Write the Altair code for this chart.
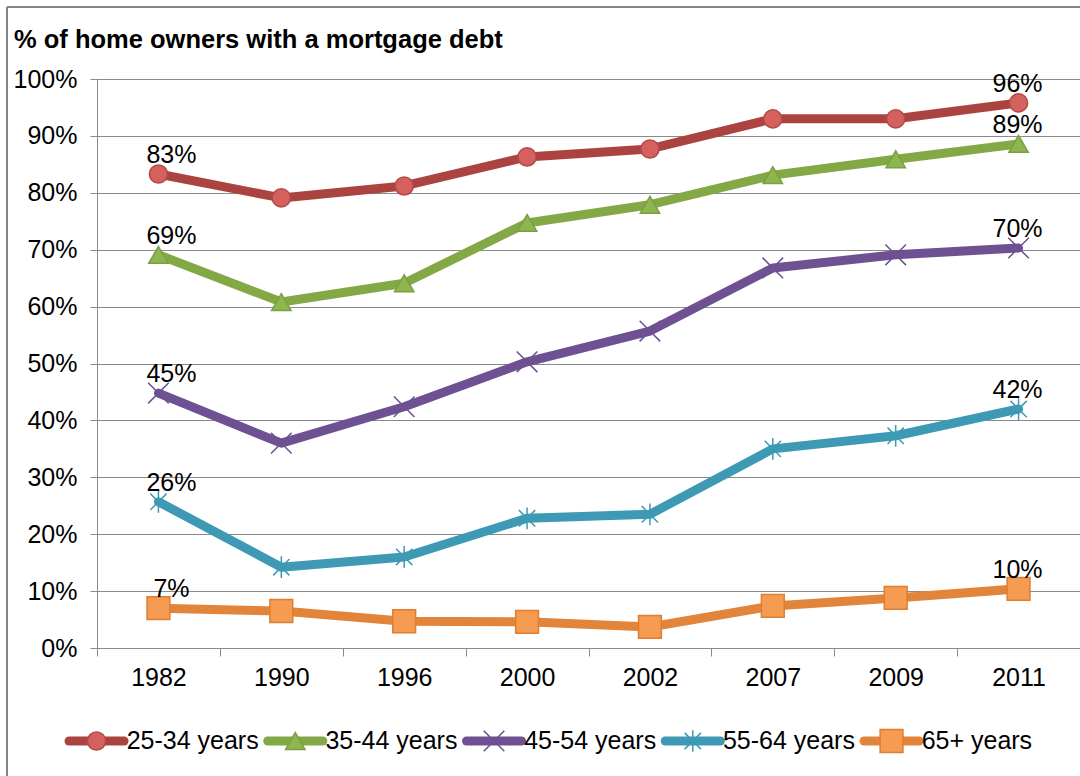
import altair as alt
import pandas as pd

years = ["1982", "1990", "1996", "2000", "2002", "2007", "2009", "2011"]
series = ["25-34 years", "35-44 years", "45-54 years", "55-64 years", "65+ years"]
v2534 = [83.3, 79.1, 81.2, 86.3, 87.7, 93.0, 93.0, 95.8]
v3544 = [69.1, 60.8, 64.1, 74.7, 77.9, 83.1, 85.9, 88.6]
v4554 = [44.8, 36.0, 42.4, 50.3, 55.7, 66.8, 69.1, 70.3]
v5564 = [25.7, 14.2, 16.0, 22.8, 23.5, 35.0, 37.3, 42.0]
v65 = [7.0, 6.5, 4.7, 4.6, 3.7, 7.4, 8.8, 10.4]
y_ticks = [0, 10, 20, 30, 40, 50, 60, 70, 80, 90, 100]
title_text = "% of home owners with a mortgage debt"

line_colors = ["#AB4441", "#83A846", "#6D5192", "#3E9AB4", "#E2843A"]
fill_colors = ["#D4615E", "#8DB550", "#6D5192", "#3E9AB4", "#F59B52"]
stroke_colors = ["#B44A47", "#7C9F42", "#6D5192", "#3E9AB4", "#DE7E31"]
shapes = ["circle", "triangle-up", "M-1,-1L1,1M-1,1L1,-1",
          "M-0.75,-0.75L0.75,0.75M-0.75,0.75L0.75,-0.75M0,-1L0,1", "square"]
sizes = [330, 520, 420, 460, 440]
leg_sizes = [290, 420, 360, 400, 380]
stroke_widths = [1.5, 1.5, 2.5, 2.5, 1.5]
fill_op = [1, 1, 0, 0, 1]

FONT = "Liberation Sans"
FS = 25

rows = []
for name, vals in zip(series, [v2534, v3544, v4554, v5564, v65]):
    for yr, v in zip(years, vals):
        rows.append({"series": name, "year": yr, "value": v})
df = pd.DataFrame(rows)

leg = pd.DataFrame({
    "series": series,
    "start": [i for i in range(len(series))],
})
leg["end"] = leg["start"] + 0.277
leg["mid"] = leg["start"] + 0.1385
leg["labx"] = leg["start"] + 0.29

W, H = 983, 569

col_line = alt.Color("series:N", scale=alt.Scale(domain=series, range=line_colors), legend=None)
shape_enc = alt.Shape("series:N", scale=alt.Scale(domain=series, range=shapes), legend=None)
fill_enc = alt.Fill("series:N", scale=alt.Scale(domain=series, range=fill_colors), legend=None)
stroke_enc = alt.Stroke("series:N", scale=alt.Scale(domain=series, range=stroke_colors), legend=None)
size_enc = alt.Size("series:N", scale=alt.Scale(domain=series, range=sizes), legend=None)
leg_size_enc = alt.Size("series:N", scale=alt.Scale(domain=series, range=leg_sizes), legend=None)
sw_enc = alt.StrokeWidth("series:N", scale=alt.Scale(domain=series, range=stroke_widths), legend=None)
fo_enc = alt.FillOpacity("series:N", scale=alt.Scale(domain=series, range=fill_op), legend=None)

x_enc = alt.X("year:N", sort=years, bandPosition=0.5,
              scale=alt.Scale(type="band", paddingInner=0, paddingOuter=0),
              axis=alt.Axis(title=None, tickBand="extent", grid=False, labelAngle=0,
                            tickSize=8, labelPadding=9, domainColor="#8a8a8a",
                            tickColor="#8a8a8a", labelFontSize=FS, labelFont=FONT,
                            labelColor="#000000"))
y_enc = alt.Y("value:Q", scale=alt.Scale(domain=[0, 100], nice=False),
              axis=alt.Axis(title=None, values=y_ticks, labelExpr="datum.value + '%'",
                            grid=True, gridColor="#8a8a8a", gridWidth=1,
                            domainColor="#8a8a8a", tickColor="#8a8a8a", tickSize=7,
                            labelPadding=13, labelFontSize=FS, labelFont=FONT,
                            labelColor="#000000"))

base = alt.Chart(df)
lines = base.mark_line(strokeWidth=9, strokeCap="round", strokeJoin="round").encode(
    x=x_enc, y=y_enc, color=col_line, detail="series:N")
points = base.mark_point(filled=False).encode(
    x=x_enc, y=y_enc, shape=shape_enc, fill=fill_enc, stroke=stroke_enc,
    size=size_enc, strokeWidth=sw_enc, fillOpacity=fo_enc, opacity=alt.value(1))
lab_first = base.transform_filter(alt.datum.year == years[0]).transform_calculate(
    lab="format(datum.value/100, '.0%')").mark_text(
    font=FONT, fontSize=FS, baseline="alphabetic", align="center", dx=13, dy=-11,
    color="#000000").encode(x=x_enc, y=y_enc, text="lab:N")
lab_last = base.transform_filter(alt.datum.year == years[-1]).transform_calculate(
    lab="format(datum.value/100, '.0%')").mark_text(
    font=FONT, fontSize=FS, baseline="alphabetic", align="center", dx=-1, dy=-11,
    color="#000000").encode(x=x_enc, y=y_enc, text="lab:N")

main = alt.layer(lines, points, lab_first, lab_last)

lx = alt.Scale(domain=[0, 4], range=[-28, 767])
lbase = alt.Chart(leg)
leg_y = alt.value(662)
leg_lines = lbase.mark_rule(strokeWidth=9, strokeCap="round").encode(
    x=alt.X("start:Q", scale=lx, axis=None), x2="end:Q", y=leg_y, color=col_line)
leg_pts = lbase.mark_point(filled=False).encode(
    x=alt.X("mid:Q", scale=lx, axis=None), y=leg_y, shape=shape_enc, fill=fill_enc,
    stroke=stroke_enc, size=leg_size_enc, strokeWidth=sw_enc, fillOpacity=fo_enc,
    opacity=alt.value(1))
leg_txt = lbase.mark_text(font=FONT, fontSize=FS, align="left", baseline="middle",
                          color="#000000").encode(
    x=alt.X("labx:Q", scale=lx, axis=None), y=leg_y, text="series:N")

frame_df = pd.DataFrame({"t": [title_text]})
frame_top = alt.Chart(frame_df).mark_rule(color="#858585", strokeWidth=2).encode(
    x=alt.value(-90), x2=alt.value(W + 10), y=alt.value(-72))
frame_left = alt.Chart(frame_df).mark_rule(color="#858585", strokeWidth=2).encode(
    x=alt.value(-90), y=alt.value(-72), y2=alt.value(H + 140))
title_mark = alt.Chart(frame_df).mark_text(
    font=FONT, fontSize=25.5, fontWeight="bold", align="left", baseline="alphabetic",
    color="#000000").encode(x=alt.value(-83), y=alt.value(-31), text="t:N")

legend_layer = alt.layer(leg_lines, leg_pts, leg_txt, frame_top, frame_left, title_mark)

chart = alt.layer(main, legend_layer).resolve_scale(x="independent").properties(
    width=W, height=H,
    autosize=alt.AutoSizeParams(type="none"),
    padding={"left": 97, "top": 79, "right": 0, "bottom": 128},
).configure_view(stroke=None).configure(background="white")

chart.save("out.html", embed_options={"renderer": "svg", "actions": False})
